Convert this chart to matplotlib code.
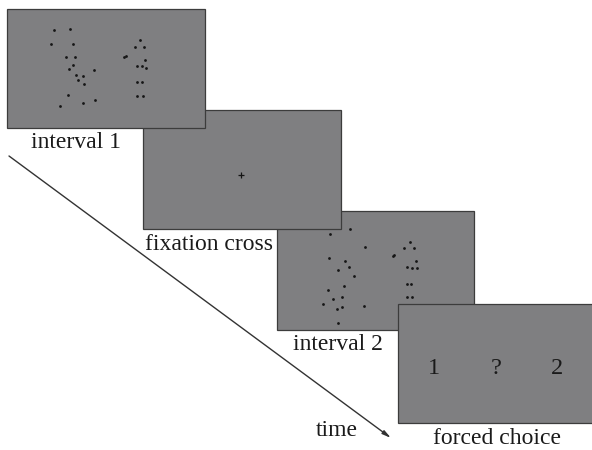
#!/usr/bin/env python3
"""Trial schematic: two point-light intervals, fixation cross, forced choice."""
import matplotlib

matplotlib.use("Agg")
import matplotlib.pyplot as plt

W, H = 592, 450

# panel rectangles in pixel coords: (left, top, right, bottom)
panel_names = ["interval 1", "fixation cross", "interval 2", "forced choice"]
panel_rects = [(7, 9, 205, 128), (143, 110, 341, 229),
               (277, 211, 474, 330), (398, 304, 596, 423)]
panel_z = [4, 3, 1, 2]
label_pos = [(76, 142), (209, 244), (338, 345), (497, 439)]

# point-light dots, interval 1 (absolute pixel coords)
dots1_x = [54, 69.7, 50.7, 73.3, 65.7, 74.7, 73, 69, 94, 76, 83.3, 77.7, 83.7,
           67.7, 95.3, 83, 60,
           140, 134.7, 144.3, 124, 126.3, 145.3, 137.3, 141.7, 146.3, 137.3,
           142, 137.3, 142.7]
dots1_y = [30, 28.7, 44.3, 44.3, 57.3, 57.3, 65.3, 68.7, 69.7, 75, 76.3, 80,
           84.3, 95, 99.7, 102.7, 106,
           40.3, 46.7, 46.7, 57, 56, 60, 65.7, 66.3, 67.7, 81.7, 82.3, 95.7,
           95.7]

# point-light dots, interval 2
dots2_x = [330.3, 349.7, 365.3, 328.7, 345, 337.7, 349, 354, 343.7, 327.7,
           332.7, 342, 323, 337.3, 342, 364.3, 338,
           409.7, 404, 414.3, 393.3, 394.3, 416, 407.3, 411.7, 417.3, 407.3,
           411.3, 407.3, 412.3]
dots2_y = [233.7, 229, 246.7, 258, 260.7, 269.7, 267.3, 276.3, 285.7, 290.3,
           299, 296.7, 304.3, 309.3, 307.3, 305.7, 322.7,
           242, 248.3, 248.3, 256.3, 255.3, 261, 267, 267.7, 268.3, 283.7,
           283.7, 296.7, 297]

fix_xy = (241, 175)

choice_text = ["1", "?", "2"]
choice_x = [434, 496, 557]
choice_y = 369

time_start = (9, 156)
time_end = (391, 438)

FILL = "#7f7f81"
EDGE = "#3c3c3c"
SERIF = "Liberation Serif"

fig = plt.figure(figsize=(W / 100, H / 100), dpi=100)
ax = fig.add_axes([0, 0, 1, 1])
ax.set_xlim(0, W)
ax.set_ylim(H, 0)
ax.axis("off")

for (l, t, r, b), z in zip(panel_rects, panel_z):
    ax.add_patch(plt.Rectangle((l, t), r - l, b - t, facecolor=FILL,
                               edgecolor=EDGE, lw=0.9, zorder=z))

for name, (x, y) in zip(panel_names, label_pos):
    ax.text(x, y, name, ha="center", va="center", family=SERIF,
            fontsize=17, color="#1a1a1a", zorder=6)

ax.scatter(dots1_x, dots1_y, s=4, color="#151515", lw=0, zorder=4.5)
ax.scatter(dots2_x, dots2_y, s=4, color="#151515", lw=0, zorder=1.5)
ax.plot(*fix_xy, marker="+", ms=4, mew=0.9, color="#151515", zorder=3.5)

for s, x in zip(choice_text, choice_x):
    ax.text(x, choice_y, s, ha="center", va="center", family=SERIF,
            fontsize=17.5, color="#1a1a1a", zorder=6)

ax.annotate("", xy=time_end, xytext=time_start,
            arrowprops=dict(arrowstyle="-|>,head_length=0.5,head_width=0.12",
                            color="#333333", lw=1.0, shrinkA=0, shrinkB=0),
            zorder=0.5)
ax.text(337, 430, "time", ha="center", va="center", family=SERIF,
        fontsize=17, color="#1a1a1a")

fig.savefig("out.png", dpi=100)
